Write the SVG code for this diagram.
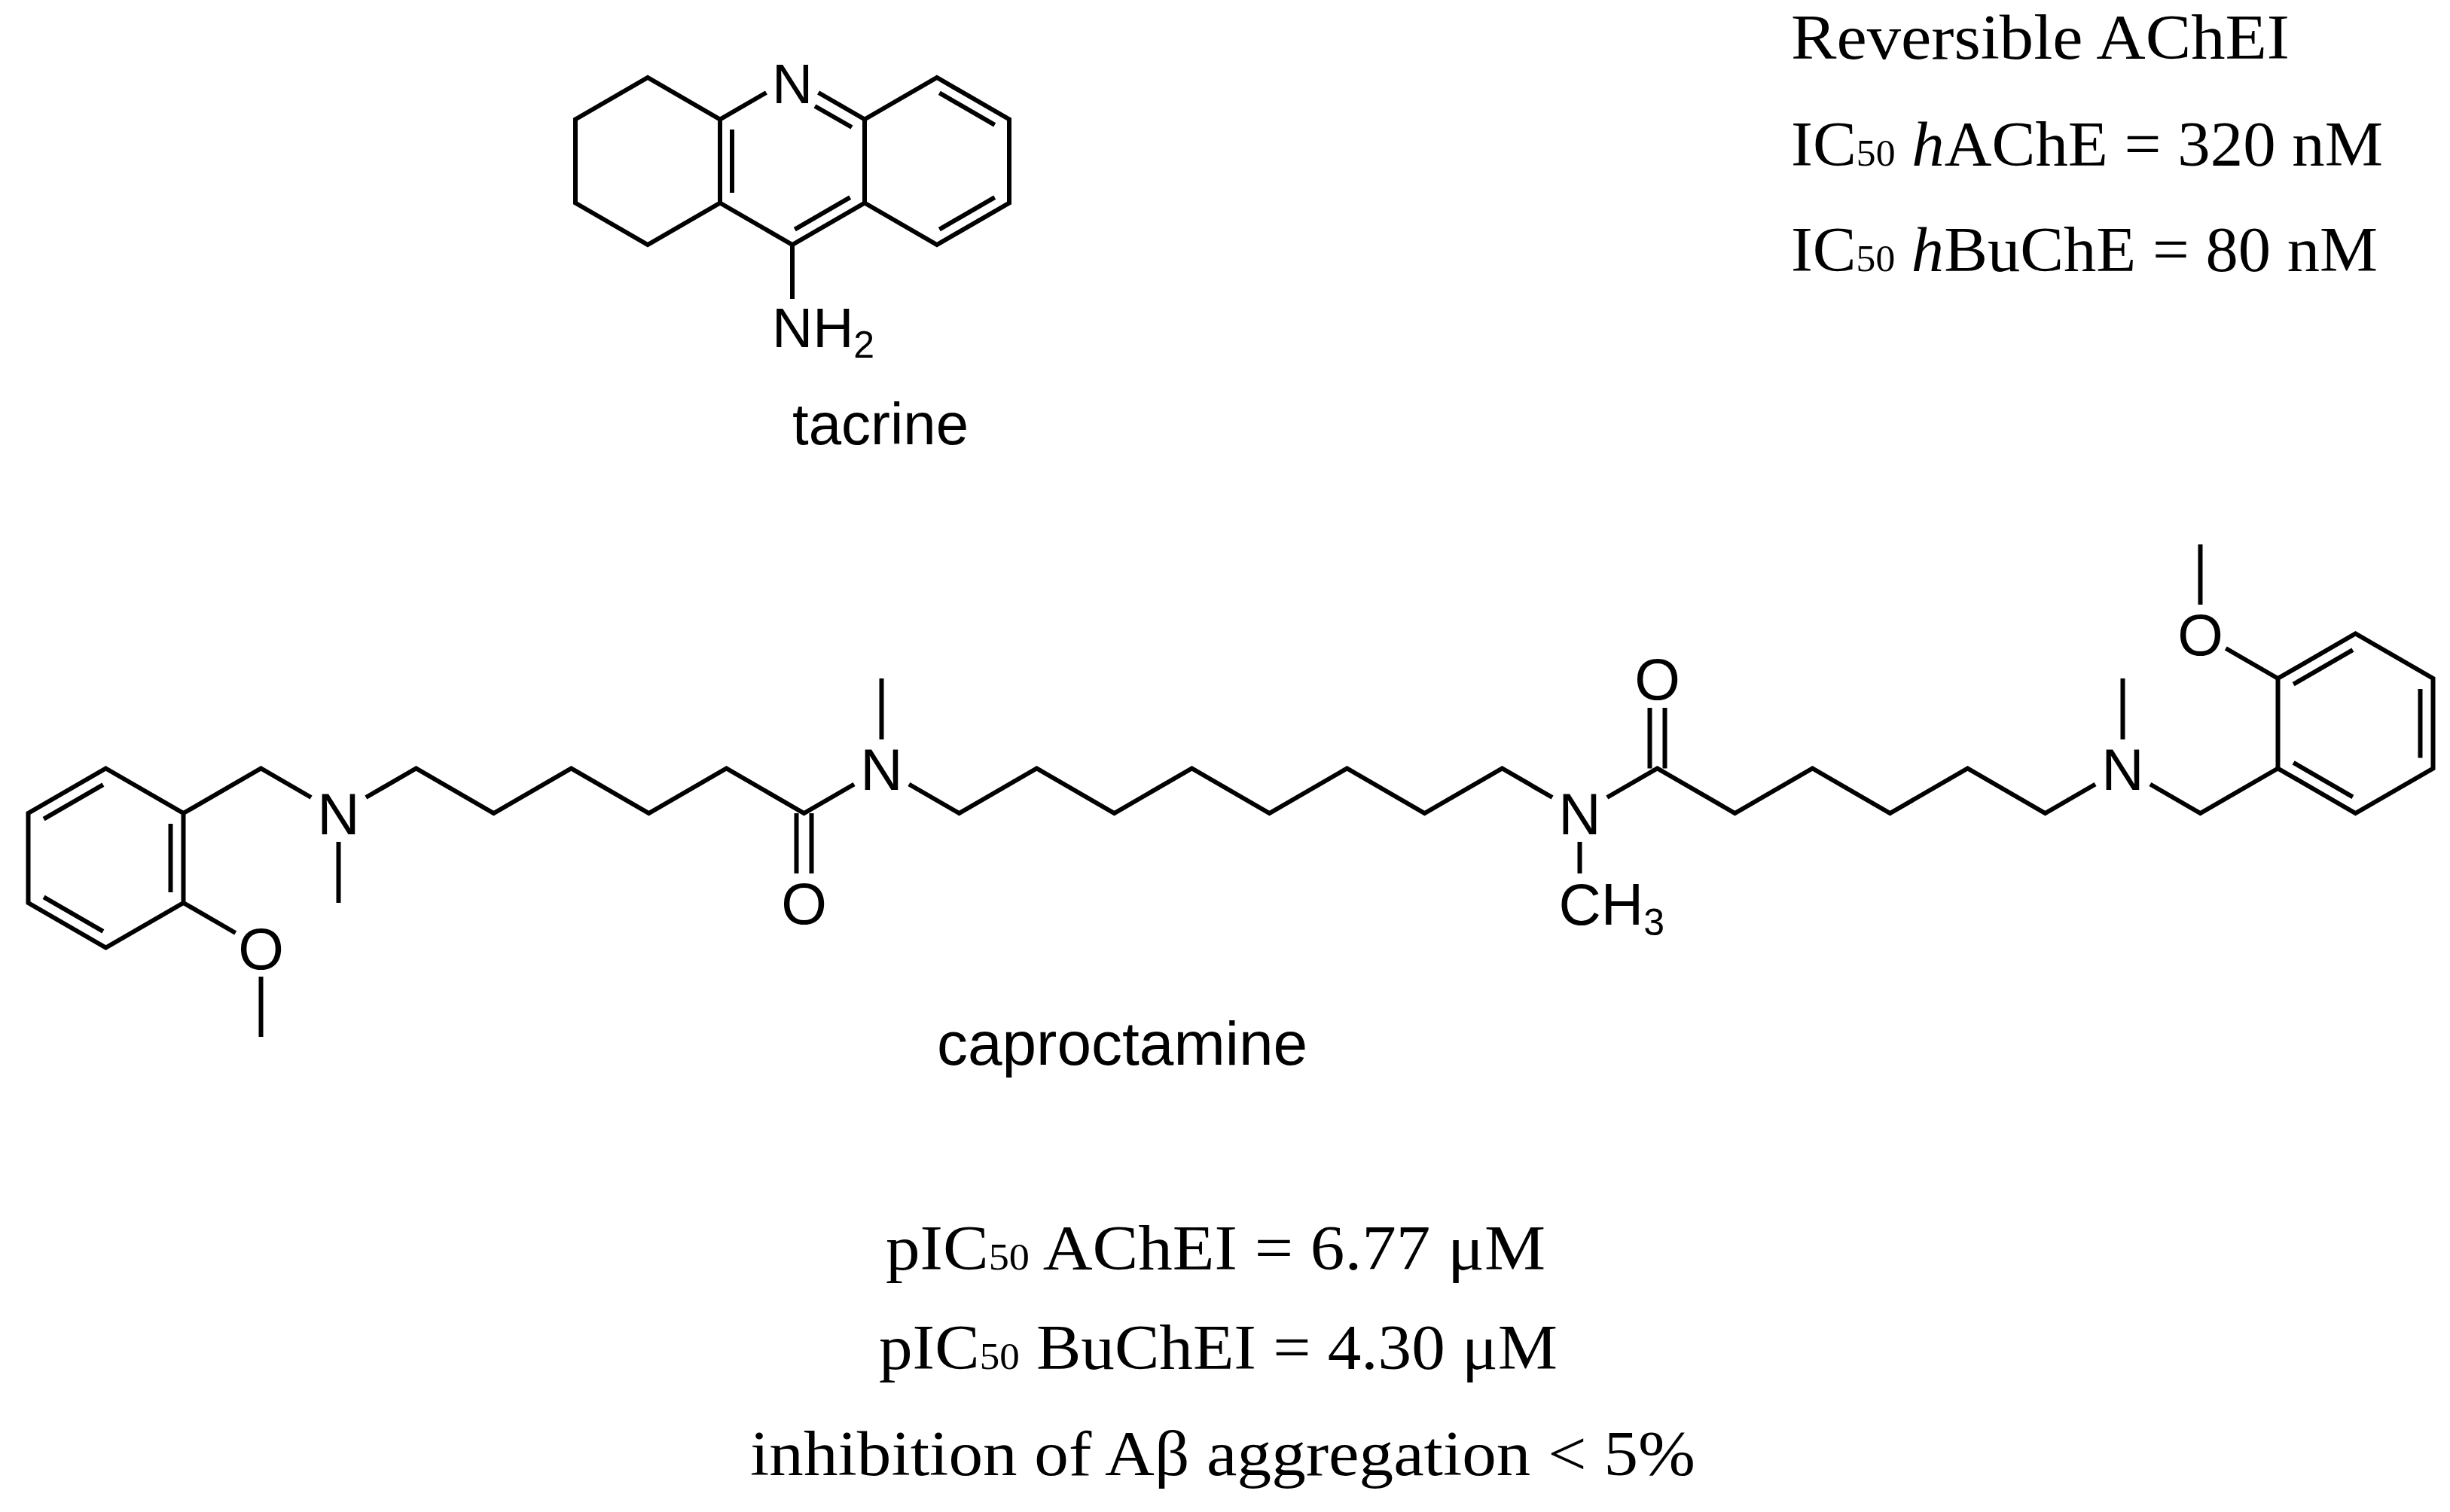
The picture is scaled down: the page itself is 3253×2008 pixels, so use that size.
<svg xmlns="http://www.w3.org/2000/svg" width="3253" height="2008" viewBox="0 0 3253 2008">
<style>
.b{fill:none;stroke:#000;stroke-width:6;stroke-linejoin:miter;stroke-linecap:butt}
.a{font-family:"Liberation Sans",Arial,sans-serif;font-size:78px;fill:#000;text-anchor:middle}
.t{font-family:"Liberation Sans",Arial,sans-serif;font-size:80px;fill:#000}
.s{font-family:"Liberation Serif","Times New Roman",serif;font-size:84px;fill:#000}
.sub{font-size:50px}
</style>
<rect width="3253" height="2008" fill="#fff"/>
<g id="tacrine">
<g class="b">
<polyline points="1017.4,123 956,158.5 860,103 764,158.5 764,269.5 860,325 956,269.5 956,158.5"/>
<polyline points="1086.6,123 1148,158.5 1148,269.5 1052,325 956,269.5"/>
<line x1="1052" y1="325" x2="1052" y2="397"/>
<polyline points="1148,158.5 1244,103 1340,158.5 1340,269.5 1244,325 1148,269.5"/>
<line x1="972" y1="172" x2="972" y2="256"/>
<line x1="1082" y1="141" x2="1131" y2="169"/>
<line x1="1055.3" y1="304.6" x2="1128.7" y2="262.1"/>
<line x1="1247.3" y1="123.4" x2="1320.7" y2="165.9"/>
<line x1="1320.7" y1="262.1" x2="1247.3" y2="304.6"/>
</g>
<text class="a" x="1052" y="137" style="font-size:75px">N</text>
<text class="a" x="1025" y="461" style="font-size:75px;text-anchor:start">NH<tspan class="sub" dy="14">2</tspan></text>
<text class="t" x="1052" y="590" style="font-size:78px">tacrine</text>
</g>
<g id="caproctamine">
<g class="b">
<polygon points="140.5,1020.5 243.5,1080 243.5,1199 140.5,1258.5 37.5,1199 37.5,1080"/>
<line x1="136.9" y1="1042.2" x2="58.1" y2="1087.7"/>
<line x1="226.5" y1="1094" x2="226.5" y2="1185"/>
<line x1="58.1" y1="1191.3" x2="136.9" y2="1236.8"/>
<polyline points="243.5,1080 346.5,1020.5 413.1,1059"/>
<line x1="449.5" y1="1118" x2="449.5" y2="1199"/>
<line x1="243.5" y1="1199" x2="312.7" y2="1239"/>
<line x1="346.5" y1="1297" x2="346.5" y2="1377"/>
<polyline points="485.9,1059 552.5,1020.5 655.5,1080 758.5,1020.5 861.5,1080 964.5,1020.5 1067.5,1080 1134.1,1041.5"/>
<line x1="1057.5" y1="1080" x2="1057.5" y2="1160"/>
<line x1="1077.5" y1="1080" x2="1077.5" y2="1160"/>
<line x1="1170.5" y1="982" x2="1170.5" y2="901"/>
<polyline points="1206.9,1041.5 1273.5,1080 1376.5,1020.5 1479.5,1080 1582.5,1020.5 1685.5,1080 1788.5,1020.5 1891.5,1080 1994.5,1020.5 2061.1,1059"/>
<line x1="2097.5" y1="1118" x2="2097.5" y2="1160"/>
<polyline points="2133.9,1059 2200.5,1020.5 2303.5,1080 2406.5,1020.5 2509.5,1080 2612.5,1020.5 2715.5,1080 2782.1,1041.5"/>
<line x1="2190.5" y1="1020.5" x2="2190.5" y2="940"/>
<line x1="2210.5" y1="1020.5" x2="2210.5" y2="940"/>
<line x1="2818.5" y1="982" x2="2818.5" y2="901"/>
<polyline points="2854.9,1041.5 2921.5,1080 3024.5,1020.5"/>
<polygon points="3024.5,1020.5 3024.5,901 3127.5,841.5 3230.5,901 3230.5,1020.5 3127.5,1080"/>
<line x1="3045.1" y1="908.7" x2="3123.9" y2="863.2"/>
<line x1="3213.5" y1="915" x2="3213.5" y2="1006.5"/>
<line x1="3045.1" y1="1012.8" x2="3123.9" y2="1058.3"/>
<line x1="3024.5" y1="901" x2="2955.3" y2="861"/>
<line x1="2921.5" y1="803" x2="2921.5" y2="723"/>
</g>
<text class="a" x="449.5" y="1108">N</text>
<text class="a" x="346.5" y="1287">O</text>
<text class="a" x="1067.5" y="1227">O</text>
<text class="a" x="1170.5" y="1048.5">N</text>
<text class="a" x="2097.5" y="1108">N</text>
<text class="a" x="2069.5" y="1228" style="text-anchor:start">CH<tspan class="sub" dy="14">3</tspan></text>
<text class="a" x="2200.5" y="929">O</text>
<text class="a" x="2818.5" y="1048.5">N</text>
<text class="a" x="2921.5" y="869.5">O</text>
<text class="t" x="1490" y="1414" style="font-size:82px;text-anchor:middle">caproctamine</text>
</g>
<g id="tacrine-data">
<text class="s" x="2378" y="78" textLength="662" lengthAdjust="spacingAndGlyphs">Reversible AChEI</text>
<text class="s" x="2378" y="220" textLength="786" lengthAdjust="spacingAndGlyphs">IC<tspan class="sub">50</tspan> <tspan font-style="italic">h</tspan>AChE = 320 nM</text>
<text class="s" x="2378" y="360" textLength="779" lengthAdjust="spacingAndGlyphs">IC<tspan class="sub">50</tspan> <tspan font-style="italic">h</tspan>BuChE = 80 nM</text>
</g>
<g id="caproctamine-data">
<text class="s" x="1176" y="1686" textLength="876" lengthAdjust="spacingAndGlyphs">pIC<tspan class="sub">50</tspan> AChEI = 6.77 μM</text>
<text class="s" x="1167" y="1818" textLength="901" lengthAdjust="spacingAndGlyphs">pIC<tspan class="sub">50</tspan> BuChEI = 4.30 μM</text>
<text class="s" x="996" y="1959" textLength="1255" lengthAdjust="spacingAndGlyphs">inhibition of Aβ aggregation &lt; 5%</text>
</g>
</svg>
